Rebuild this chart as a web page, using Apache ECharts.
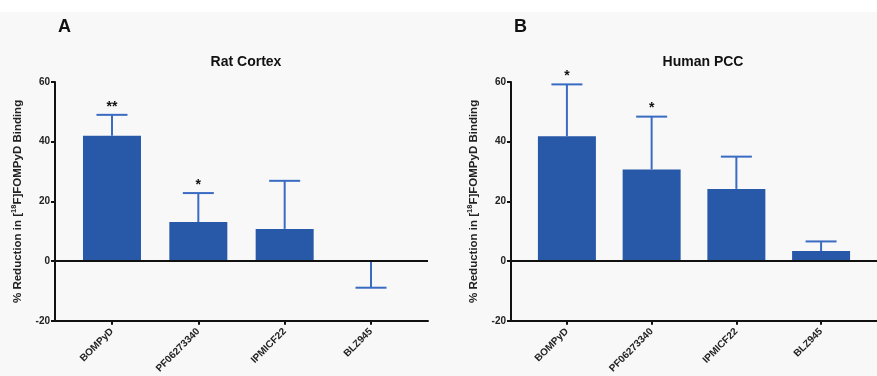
<!DOCTYPE html>
<html>
<head>
<meta charset="utf-8">
<script src="https://cdn.jsdelivr.net/npm/echarts@6/dist/echarts.min.js"></script>
<style>
  html, body { margin: 0; padding: 0; background: #fff; }
  #chart { width: 877px; height: 376px; }
</style>
</head>
<body>
<div id="chart"></div>
<script>
var drugs = ['BOMPyD', 'PF06273340', 'IPMICF22', 'BLZ945'];
var yTicks = [-20, 0, 20, 40, 60];

// panel A: rat cortex
var ratMean = [42, 13.1, 10.8, -0.2];
var ratErrEnd = [49, 22.8, 26.9, -8.9];
var ratSig = ['**', '*', '', ''];

// panel B: human PCC
var humanMean = [41.8, 30.7, 24.2, 3.4];
var humanErrEnd = [59.2, 48.4, 35, 6.6];
var humanSig = ['*', '*', '', ''];

var barColor = '#2859a8';
var errColor = '#3a6bc2';
var font = 'Liberation Sans, Arial, sans-serif';

var chart = echarts.init(document.getElementById('chart'));

function xAxisFor(idx) {
    return {
        type: 'value',
        gridIndex: idx,
        min: -0.66,
        max: 3.66,
        splitLine: {show: false},
        axisLine: {onZero: false, lineStyle: {color: '#111', width: 2}},
        axisTick: {customValues: [0, 1, 2, 3], length: 4, lineStyle: {color: '#111', width: 2}},
        axisLabel: {
            customValues: [0, 1, 2, 3],
            rotate: 45,
            margin: 9,
            fontSize: 10,
            fontWeight: 'bold',
            fontFamily: font,
            color: '#222',
            formatter: function (v) { return drugs[Math.round(v)]; }
        }
    };
}

function yAxisFor(idx) {
    return {
        type: 'value',
        gridIndex: idx,
        min: yTicks[0],
        max: yTicks[yTicks.length - 1],
        interval: 20,
        splitLine: {show: false},
        axisLine: {show: true, onZero: false, lineStyle: {color: '#111', width: 2}},
        axisTick: {show: true, length: 4, lineStyle: {color: '#111', width: 2}},
        axisLabel: {margin: 5, fontSize: 10, fontWeight: 'bold', fontFamily: font, color: '#222'},
        name: '{t|% Reduction in [}{sup|18}{t|F]FOMPyD Binding}',
        nameLocation: 'middle',
        nameGap: 30,
        nameTextStyle: {
            rich: {
                t: {fontSize: 11.5, fontWeight: 'bold', fontFamily: font, color: '#222', lineHeight: 15},
                sup: {fontSize: 7.5, fontWeight: 'bold', fontFamily: font, color: '#222', lineHeight: 15, verticalAlign: 'top'}
            }
        }
    };
}

function barSeries(idx, mean) {
    return {
        type: 'bar',
        xAxisIndex: idx,
        yAxisIndex: idx,
        barWidth: 58,
        itemStyle: {color: barColor},
        data: mean.map(function (v, i) { return [i, v]; }),
        markLine: {
            silent: true,
            symbol: 'none',
            label: {show: false},
            lineStyle: {color: '#111', width: 2, type: 'solid'},
            data: [{yAxis: 0}]
        },
        z: 2
    };
}

function errSeries(idx, mean, errEnd, sig) {
    return {
        type: 'custom',
        xAxisIndex: idx,
        yAxisIndex: idx,
        data: mean.map(function (v, i) { return [i, v, errEnd[i]]; }),
        renderItem: function (params, api) {
            var i = api.value(0);
            var p0 = api.coord([i, api.value(1)]);
            var p1 = api.coord([i, api.value(2)]);
            var half = 15.5;
            var children = [
                {type: 'line', shape: {x1: p0[0], y1: p0[1], x2: p1[0], y2: p1[1]}, style: {stroke: errColor, lineWidth: 2}},
                {type: 'line', shape: {x1: p1[0] - half, y1: p1[1], x2: p1[0] + half, y2: p1[1]}, style: {stroke: errColor, lineWidth: 2}}
            ];
            var s = sig[params.dataIndex];
            if (s) {
                children.push({
                    type: 'text',
                    x: p1[0],
                    y: p1[1] - 1,
                    style: {text: s, fill: '#111', font: 'bold 14px ' + font, align: 'center', verticalAlign: 'bottom'}
                });
            }
            return {type: 'group', children: children};
        },
        z: 3
    };
}

var option = {
    backgroundColor: '#f8f8f8',
    animation: false,
    graphic: [
        {type: 'rect', left: 0, top: 0, shape: {width: 877, height: 12}, style: {fill: '#fff'}, z: -1},
        {type: 'text', left: 58, top: 18, style: {text: 'A', font: 'bold 18px ' + font, fill: '#111'}},
        {type: 'text', left: 514, top: 18, style: {text: 'B', font: 'bold 18px ' + font, fill: '#111'}}
    ],
    title: [
        {text: 'Rat Cortex', left: 241, top: 50, textAlign: 'center',
            textStyle: {fontSize: 14, fontWeight: 'bold', fontFamily: font, color: '#111'}},
        {text: 'Human PCC', left: 698, top: 50, textAlign: 'center',
            textStyle: {fontSize: 14, fontWeight: 'bold', fontFamily: font, color: '#111'}}
    ],
    grid: [
        {left: 55, right: 449, top: 82, bottom: 54},
        {left: 511, right: -7, top: 82, bottom: 54}
    ],
    xAxis: [xAxisFor(0), xAxisFor(1)],
    yAxis: [yAxisFor(0), yAxisFor(1)],
    series: [
        barSeries(0, ratMean),
        errSeries(0, ratMean, ratErrEnd, ratSig),
        barSeries(1, humanMean),
        errSeries(1, humanMean, humanErrEnd, humanSig)
    ]
};

chart.setOption(option);
</script>
</body>
</html>
